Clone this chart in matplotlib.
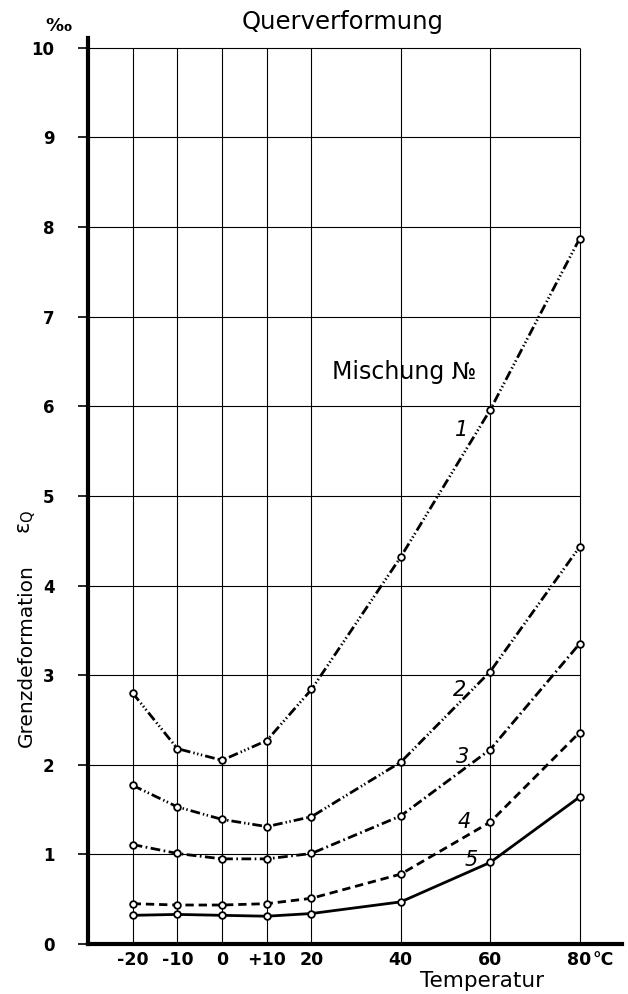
import matplotlib
matplotlib.use("Agg")
import matplotlib.pyplot as plt

# ---- data ----
temps = [-20, -10, 0, 10, 20, 40, 60, 80]
mix1 = [2.80, 2.18, 2.05, 2.27, 2.84, 4.32, 5.96, 7.87]
mix2 = [1.77, 1.53, 1.39, 1.31, 1.42, 2.03, 3.04, 4.43]
mix3 = [1.11, 1.01, 0.95, 0.95, 1.01, 1.43, 2.17, 3.35]
mix4 = [0.45, 0.435, 0.435, 0.45, 0.51, 0.78, 1.36, 2.36]
mix5 = [0.32, 0.33, 0.32, 0.31, 0.34, 0.47, 0.91, 1.64]
series_names = ["1", "2", "3", "4", "5"]
x_tick_labels = ["-20", "-10", "0", "+10", "20", "40", "60", "80"]
y_ticks = list(range(0, 11))
label_pos = [(53.6, 5.74), (53.2, 2.83), (53.8, 2.09), (54.3, 1.36), (55.8, 0.94)]

plt.rcParams['lines.scale_dashes'] = False
narrow = ['Liberation Sans Narrow', 'DejaVu Sans']

fig = plt.figure(figsize=(6.28, 9.94), dpi=100)
ax = fig.add_axes([88/628, 1-944/994, (622-88)/628, (944-38)/994])
ax.set_xlim(-30, 89.5)
ax.set_ylim(0, 10.11)

# grid
ax.vlines(temps, 0, 10, colors='black', linewidth=0.8, zorder=1)
ax.hlines(y_ticks[1:], -30, 80, colors='black', linewidth=0.8, zorder=1)

styles = [
    (0, (7, 2.2, 1, 1.8, 1, 1.8, 1, 2.2)),
    (0, (7, 2.2, 1, 1.8, 1, 2.2)),
    (0, (7, 2.5, 1.2, 2.5)),
    (0, (6, 3.5)),
    '-',
]
for vals, ls in zip([mix1, mix2, mix3, mix4, mix5], styles):
    ax.plot(temps, vals, color='black', linestyle=ls, linewidth=2.0,
            marker='o', markersize=4.8, markerfacecolor='white',
            markeredgecolor='black', markeredgewidth=1.3, zorder=3)

for name, (lx, ly) in zip(series_names, label_pos):
    ax.text(lx, ly, name, fontsize=15, fontstyle='italic', fontweight='light',
            ha='center', va='center', color='black')

ax.text(24.7, 6.38, "Mischung №", fontsize=17, ha='left', va='center', color='black')

# spines
for s in ['top', 'right']:
    ax.spines[s].set_visible(False)
ax.spines['left'].set_linewidth(3.0)
ax.spines['bottom'].set_linewidth(3.0)

ax.set_xticks(temps)
ax.set_xticklabels(x_tick_labels, family=narrow, fontweight='bold', fontsize=12.5)
ax.tick_params(axis='x', length=0, pad=5)
ax.set_yticks(y_ticks)
ax.set_yticklabels([str(v) for v in y_ticks], family=narrow, fontweight='bold', fontsize=12)
ax.tick_params(axis='y', length=7, width=1.2, pad=17, direction='out')

ax.annotate("°C", xy=(80, 0), xycoords='data', xytext=(9, -5), textcoords='offset points',
            ha='left', va='top', family=narrow, fontweight='bold', fontsize=12.5)
ax.annotate("‰", xy=(-30, 10), xycoords='data', xytext=(-21, 9), textcoords='offset points',
            ha='center', va='bottom', family=narrow, fontweight='bold', fontsize=13)

fig.text(343/628, 1-22/994, "Querverformung", fontsize=17.5, ha='center', va='center')
fig.text(482/628, 1-981/994, "Temperatur", fontsize=15.5, ha='center', va='center')
fig.text(26/628, 1-656/994, "Grenzdeformation", fontsize=14.5, rotation=90, ha='center', va='center')
fig.text(27/628, 1-522/994, r"ε$_\mathregular{Q}$", fontsize=15, rotation=90, ha='center', va='center')

fig.savefig("out.png", dpi=100)
